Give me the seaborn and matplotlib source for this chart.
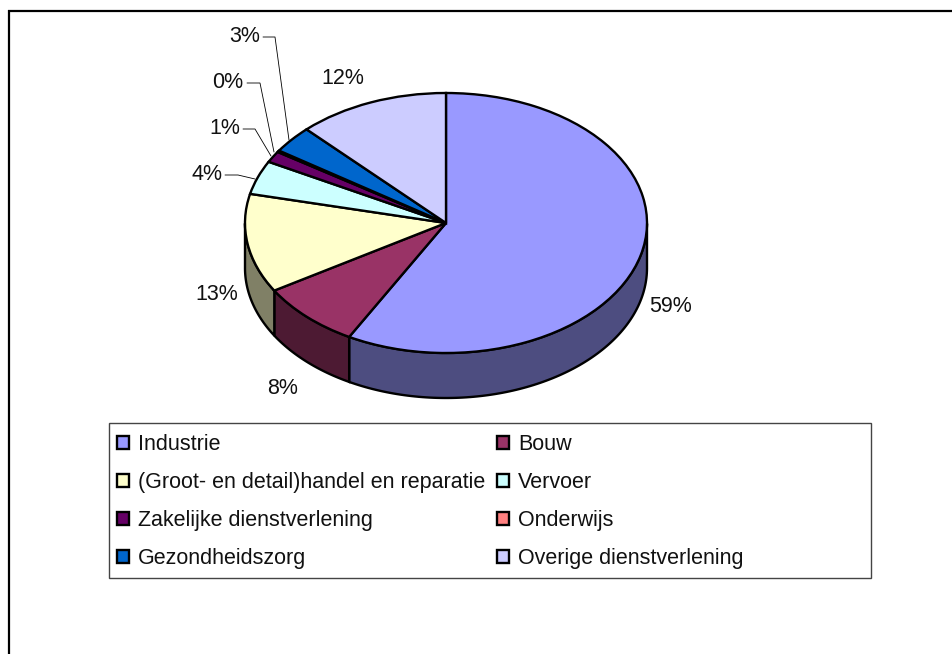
import numpy as np
import matplotlib
matplotlib.use("Agg")
import matplotlib.pyplot as plt
import seaborn as sns
from matplotlib.lines import Line2D
from matplotlib.patches import Rectangle

categories = ["Industrie", "Bouw", "(Groot- en detail)handel en reparatie", "Vervoer",
              "Zakelijke dienstverlening", "Onderwijs", "Gezondheidszorg", "Overige dienstverlening"]
shares = [58.0, 8.3, 12.3, 4.2, 1.4, 0.2, 3.4, 12.2]
percent_labels = [59, 8, 13, 4, 1, 0, 3, 12]
colors = ["#9999FF", "#993366", "#FFFFCC", "#CCFFFF", "#660066", "#FF8080", "#0066CC", "#CCCCFF"]

W, H = 953, 654
CX, CY, RX, RY, DEPTH = 446, 223, 201, 130, 45
EDGE = 1.7

sns.set_theme(style="white")
plt.rcParams["font.family"] = ["Liberation Sans", "DejaVu Sans"]
palette = sns.color_palette(colors)

fig = plt.figure(figsize=(W / 100, H / 100), dpi=100, facecolor="white")
ax = fig.add_axes([0, 0, 1, 1])


def fx(px):
    return px / W


def fy(py):
    return 1 - py / H


# Side wall of the disc, front half only, from the same shares as the top
depth = DEPTH / RY
edges = 90 - 360 * np.cumsum([0] + shares) / sum(shares)
for a0, a1, c in zip(edges[:-1], edges[1:], palette):
    t = np.radians(np.linspace(a1, a0, 200))
    t = t[np.sin(t) <= 0]
    if t.size < 2:
        continue
    x, y = np.cos(t), np.sin(t)
    ax.fill(np.r_[x, x[::-1]], np.r_[y, y[::-1] - depth],
            facecolor=tuple(v * 0.5 for v in c), edgecolor="black", linewidth=EDGE, zorder=1)

wedges, _ = ax.pie(shares, colors=palette, startangle=90, counterclock=False, radius=1,
                   labels=categories, labeldistance=None,
                   wedgeprops={"edgecolor": "black", "linewidth": EDGE, "zorder": 2})
ax.set_aspect("auto")
ax.set_xlim(-CX / RX, (W - CX) / RX)
ax.set_ylim(-(H - CY) / RY, CY / RY)
ax.axis("off")

# Percentage labels and their leader lines
FS = 15.5
label_pos = [(671, 307), (283, 389), (217, 295), (207, 175), (225, 128), (228, 83), (245, 37), (343, 79)]
for v, (px, py) in zip(percent_labels, label_pos):
    fig.text(fx(px), fy(py), f"{v}%", fontsize=FS, color="#111111", ha="center", va="center")

leaders = [
    [(225, 175), (238, 175), (255, 179)],
    [(243, 129), (255, 129), (271, 156)],
    [(247, 83), (260, 83), (274, 152)],
    [(263, 37), (275, 37), (289, 140)],
]
for pts in leaders:
    xs, ys = zip(*pts)
    fig.add_artist(Line2D([fx(p) for p in xs], [fy(p) for p in ys], color="black", lw=0.6))

# Legend box and entries
fig.add_artist(Rectangle((fx(109), fy(578)), (871 - 109) / W, (578 - 423) / H, transform=fig.transFigure,
                         facecolor="white", edgecolor="#444444", linewidth=1.0, zorder=3))
order = list(range(0, 8, 2)) + list(range(1, 8, 2))
leg = fig.legend([wedges[i] for i in order], [categories[i] for i in order], ncol=2,
                 loc="upper left", bbox_to_anchor=(fx(117), fy(434)), frameon=False, borderaxespad=0,
                 borderpad=0, fontsize=FS, handlelength=0.55, handleheight=0.55, handletextpad=0.42,
                 labelspacing=0.787, columnspacing=0.55, labelcolor="#111111")
leg.set_zorder(4)

# Outer frame: only the top and left edges fall inside the picture
fig.add_artist(Line2D([fx(9), fx(9)], [fy(10), fy(H)], color="black", lw=1.6, solid_capstyle="butt"))
fig.add_artist(Line2D([fx(8), fx(W)], [fy(11), fy(11)], color="black", lw=1.6, solid_capstyle="butt"))

fig.savefig("out.png", dpi=100, facecolor="white")
